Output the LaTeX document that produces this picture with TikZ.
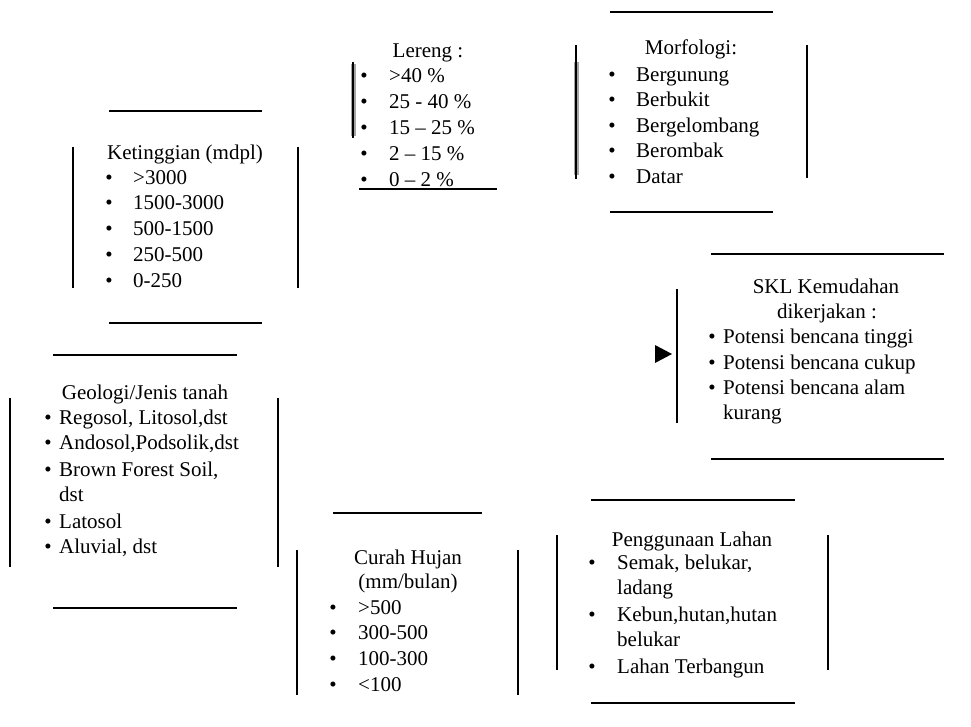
\documentclass[tikz,border=0pt]{standalone}
\usepackage{fontspec}
\setmainfont{Liberation Serif}
\begin{document}
\begin{tikzpicture}[x=1pt,y=-1pt,
  every node/.style={inner sep=0pt,yshift=-4.5pt,font=\fontsize{21}{24}\selectfont},
  ttl/.style={anchor=mid},
  itm/.style={anchor=mid west},
  bul/.style={anchor=mid},
  bar/.style={line width=2pt,black},
  shade/.style={line width=5pt,black!35}]
\useasboundingbox (0,0) rectangle (971,726);

% ---- Lereng ----
\draw[shade] (353,64) -- (353,136);
\draw[bar] (353,62) -- (353,138);
\node[ttl] (lr) at (428,51) {Lereng :};
\node[bul] (lrb1) at (364,76) {•};  \node[itm] (lr1) at (389,76) {>40 \%};
\node[bul] (lrb2) at (364,102) {•}; \node[itm] (lr2) at (389,102) {25 - 40 \%};
\node[bul] (lrb3) at (364,128) {•}; \node[itm] (lr3) at (389,128) {15 – 25 \%};
\node[bul] (lrb4) at (364,154) {•}; \node[itm] (lr4) at (389,154) {2 – 15 \%};
\node[bul] (lrb5) at (364,180) {•}; \node[itm] (lr5) at (389,180) {0 – 2 \%};
\draw[line width=1.2pt] (359,189) -- (497,189);

% ---- Morfologi ----
\draw[bar] (610,12) -- (773,12);
\draw[bar] (610,212) -- (773,212);
\draw[shade] (576,62) -- (576,175);
\draw[bar] (576,45) -- (576,179);
\draw[bar] (807,45) -- (807,178);
\node[ttl] (mf) at (691,48) {Morfologi:};
\node[bul] (mfb1) at (612,75) {•};  \node[itm] (mf1) at (636,75) {Bergunung};
\node[bul] (mfb2) at (612,100) {•}; \node[itm] (mf2) at (636,100) {Berbukit};
\node[bul] (mfb3) at (612,126) {•}; \node[itm] (mf3) at (636,126) {Bergelombang};
\node[bul] (mfb4) at (612,151) {•}; \node[itm] (mf4) at (636,151) {Berombak};
\node[bul] (mfb5) at (612,177) {•}; \node[itm] (mf5) at (636,177) {Datar};

% ---- Ketinggian ----
\draw[bar] (109,111) -- (262,111);
\draw[bar] (109,323) -- (262,323);
\draw[bar] (73,147) -- (73,288);
\draw[bar] (298,147) -- (298,288);
\node[ttl] (kt) at (185,153) {Ketinggian (mdpl)};
\node[bul] (ktb1) at (109,178) {•}; \node[itm] (kt1) at (133,178) {>3000};
\node[bul] (ktb2) at (109,203) {•}; \node[itm] (kt2) at (133,203) {1500-3000};
\node[bul] (ktb3) at (109,229) {•}; \node[itm] (kt3) at (133,229) {500-1500};
\node[bul] (ktb4) at (109,255) {•}; \node[itm] (kt4) at (133,255) {250-500};
\node[bul] (ktb5) at (109,281) {•}; \node[itm] (kt5) at (133,281) {0-250};

% ---- Geologi ----
\draw[bar] (53,355) -- (237,355);
\draw[bar] (53,608) -- (237,608);
\draw[bar] (10,398) -- (10,567);
\draw[bar] (278,398) -- (278,567);
\node[ttl] (gl) at (145,393) {Geologi/Jenis tanah};
\node[bul] (glb1) at (48,418) {•}; \node[itm] (gl1) at (59,418) {Regosol, Litosol,dst};
\node[bul] (glb2) at (48,443) {•}; \node[itm] (gl2) at (59,443) {Andosol,Podsolik,dst};
\node[bul] (glb3) at (48,470) {•}; \node[itm] (gl3) at (59,470) {Brown Forest Soil,};
\node[itm] (gl3b) at (59,495) {dst};
\node[bul] (glb4) at (48,522) {•}; \node[itm] (gl4) at (59,522) {Latosol};
\node[bul] (glb5) at (48,547) {•}; \node[itm] (gl5) at (59,547) {Aluvial, dst};

% ---- SKL ----
\draw[bar] (711,254) -- (944,254);
\draw[bar] (711,459) -- (944,459);
\draw[bar] (677,289) -- (677,423);
\fill (655,345) -- (672,354) -- (655,363) -- cycle;
\node[ttl] (sk) at (826,287) {SKL Kemudahan};
\node[ttl] (sk0) at (827,312) {dikerjakan :};
\node[bul] (skb1) at (712,337) {•}; \node[itm] (sk1) at (723,337) {Potensi bencana tinggi};
\node[bul] (skb2) at (712,363) {•}; \node[itm] (sk2) at (723,363) {Potensi bencana cukup};
\node[bul] (skb3) at (712,388) {•}; \node[itm] (sk3) at (723,388) {Potensi bencana alam};
\node[itm] (sk3b) at (723,413) {kurang};

% ---- Curah Hujan ----
\draw[bar] (333,513) -- (482,513);
\draw[bar] (297,550) -- (297,695);
\draw[bar] (518,550) -- (518,695);
\node[ttl] (ch) at (408,558) {Curah Hujan};
\node[ttl] (ch0) at (408,582) {(mm/bulan)};
\node[bul] (chb1) at (333,608) {•}; \node[itm] (ch1) at (358,608) {>500};
\node[bul] (chb2) at (333,633) {•}; \node[itm] (ch2) at (358,633) {300-500};
\node[bul] (chb3) at (333,659) {•}; \node[itm] (ch3) at (358,659) {100-300};
\node[bul] (chb4) at (333,685) {•}; \node[itm] (ch4) at (358,685) {<100};

% ---- Penggunaan Lahan ----
\draw[bar] (591,500) -- (795,500);
\draw[bar] (591,703) -- (795,703);
\draw[bar] (557,535) -- (557,670);
\draw[bar] (828,535) -- (828,670);
\node[ttl] (pl) at (692,540) {Penggunaan Lahan};
\node[bul] (plb1) at (592,563) {•}; \node[itm] (pl1) at (617,563) {Semak, belukar,};
\node[itm] (pl1b) at (617,588) {ladang};
\node[bul] (plb2) at (592,615) {•}; \node[itm] (pl2) at (617,615) {Kebun,hutan,hutan};
\node[itm] (pl2b) at (617,640) {belukar};
\node[bul] (plb3) at (592,667) {•}; \node[itm] (pl3) at (617,667) {Lahan Terbangun};
\end{tikzpicture}
\end{document}
